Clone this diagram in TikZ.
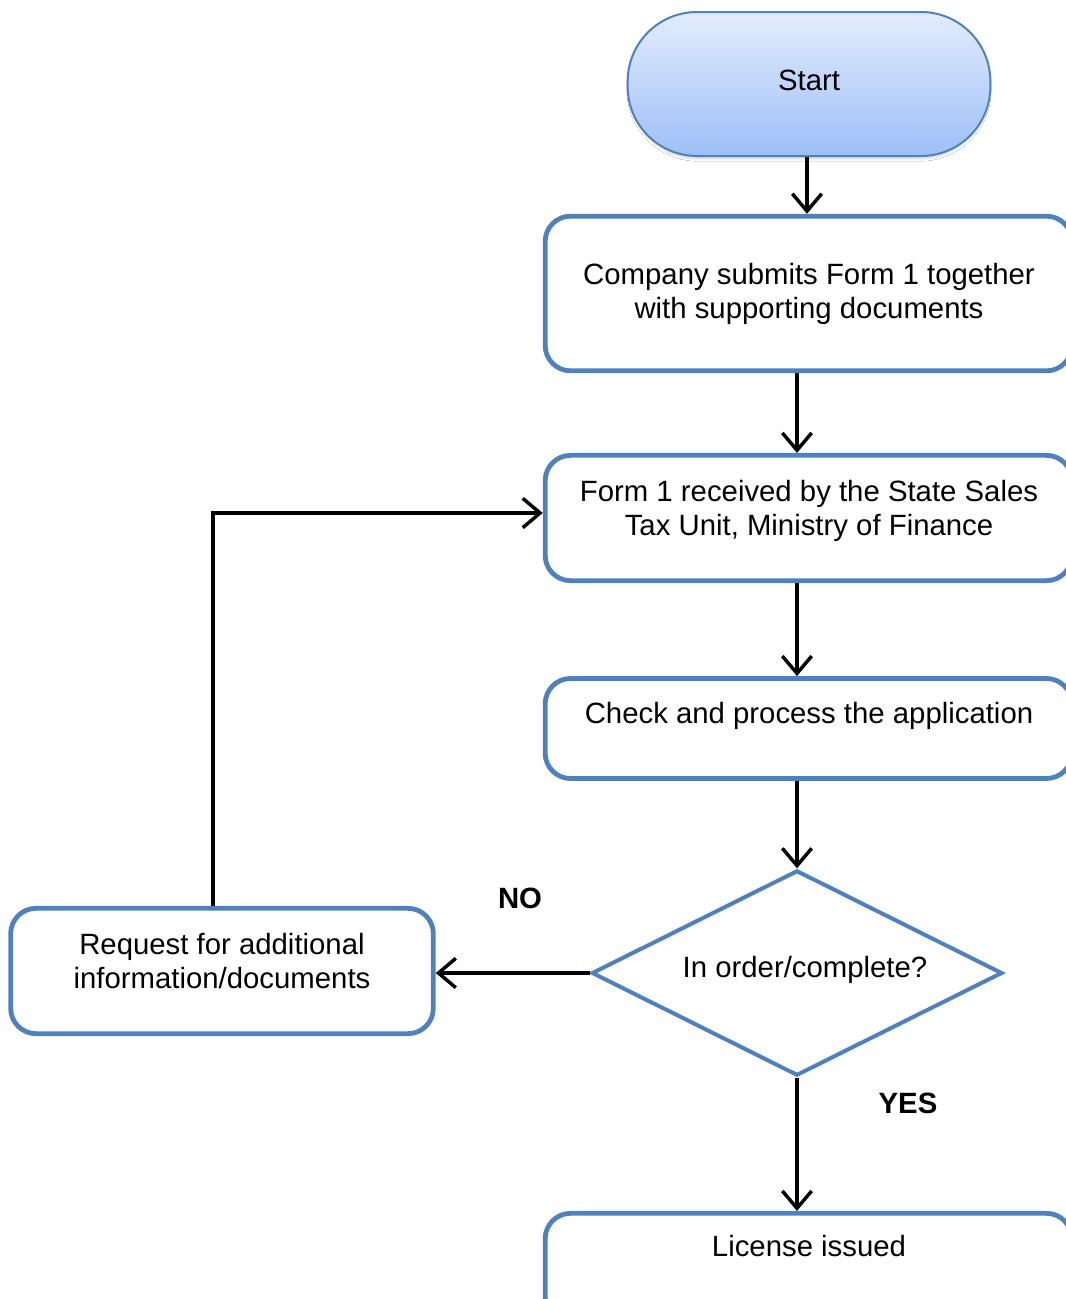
\documentclass[tikz,border=0pt]{standalone}
\usepackage{fontspec}
\setmainfont{Liberation Sans}
\usetikzlibrary{arrows.meta,shapes.geometric,shadows.blur}
\definecolor{bord}{RGB}{79,129,189}
\definecolor{gtop}{RGB}{227,236,252}
\definecolor{gbot}{RGB}{158,191,247}
\tikzset{
  txt/.style={font=\fontsize{22pt}{25.5pt}\selectfont, align=center, inner sep=0pt},
  lbl/.style={font=\fontsize{22pt}{25.5pt}\selectfont\bfseries, inner sep=0pt},
  procbox/.style={draw=bord, line width=3.6pt, rounded corners=19pt, fill=white, minimum width=395pt},
  startbox/.style={draw=bord, line width=1.5pt, rounded corners=52pt, top color=gtop, bottom color=gbot,
     minimum width=272pt, minimum height=108pt, inner sep=0pt,
     blur shadow={shadow xshift=0pt, shadow yshift=-2.5pt, shadow scale=0.99, shadow blur steps=8, shadow blur radius=2pt, shadow opacity=18}},
  decbox/.style={draw=bord, line width=3pt, diamond, shape aspect=2, minimum width=308pt, minimum height=154pt, inner sep=0pt, fill=white},
  arr/.style={line width=2.6pt, -{Straight Barb[length=13pt,width=22pt]}}
}
\begin{document}
\begin{tikzpicture}[x=0.75pt,y=-0.75pt]
\useasboundingbox (0,0) rectangle (1066,1299);
\clip (0,0) rectangle (1066,1299);
\fill[white] (0,0) rectangle (1066,1299);

\node[startbox] (st) at (809,84) {};
\node[txt] (stt) at (809,80) {Start};

\node[procbox, minimum height=116pt] (b1) at (808.5,293.5) {};
\node[txt] (b1t) at (809,294) {Company submits Form 1 together\\with supporting documents};

\node[procbox, minimum height=94pt] (b2) at (808.5,518) {};
\node[txt] (b2t) at (809,511) {Form 1 received by the State Sales\\Tax Unit, Ministry of Finance};

\node[procbox, minimum height=75pt] (b3) at (808.5,728.5) {};
\node[txt] (b3t) at (809,716) {Check and process the application};

\node[decbox] (d) at (797,973) {};
\node[txt] (dt) at (805,970) {In order/complete?};

\node[procbox, minimum height=82pt] (b4) at (808.5,1268) {};
\node[txt] (b4t) at (809,1246) {License issued};

\node[procbox, minimum width=317pt, minimum height=94pt] (b5) at (222,971) {};
\node[txt] (b5t) at (222,961) {Request for additional\\information/documents};

\node[lbl] (no) at (520,898) {NO};
\node[lbl] (yes) at (908,1103) {YES};

\coordinate (lp) at (213,513);

\draw[arr] ([xshift=-1.5pt]st.south) -- ([xshift=-1.5pt]st.south |- b1.north);
\draw[arr] (b1.south -| d.north) -- (b2.north -| d.north);
\draw[arr] (b2.south -| d.north) -- (b3.north -| d.north);
\draw[arr] (b3.south -| d.north) -- (d.north);
\draw[arr] (d.south) -- (d.south |- b4.north);
\draw[arr] (d.west) -- (d.west -| b5.east);
\draw[arr] (lp |- b5.north) -- (lp) -- (b2.west |- lp);
\end{tikzpicture}
\end{document}
